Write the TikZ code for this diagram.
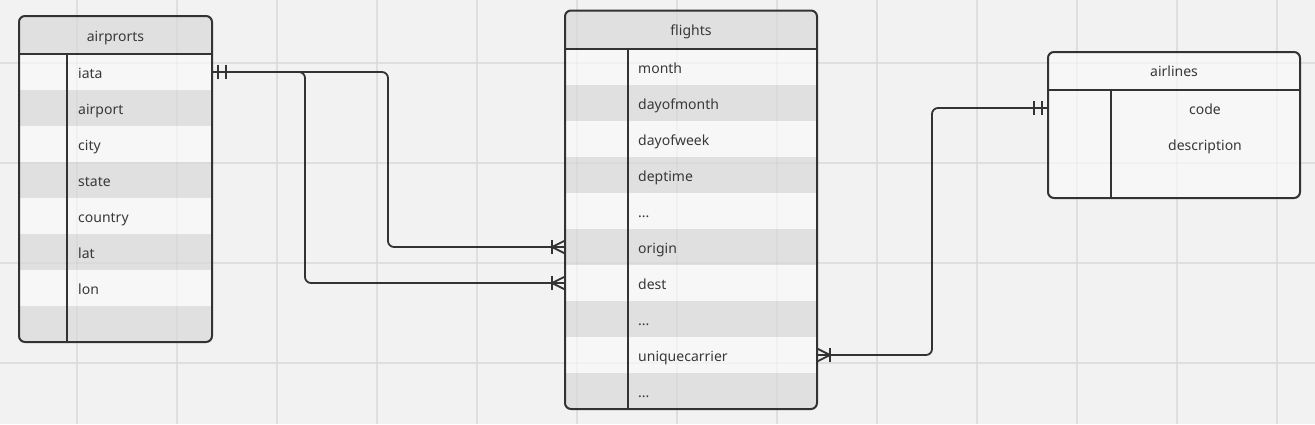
\documentclass[tikz,border=0pt]{standalone}
\usepackage{fontspec}
\setmainfont{Noto Sans}
\definecolor{bg}{HTML}{F2F2F2}
\definecolor{gridc}{HTML}{E5E5E5}
\definecolor{linec}{HTML}{333333}
\definecolor{rowa}{HTML}{F7F7F7}
\definecolor{rowb}{HTML}{E0E0E0}
\definecolor{txtc}{HTML}{383838}
\newcommand{\tridots}{...}
\begin{document}
\begin{tikzpicture}[x=1pt,y=-1pt,
  font=\fontsize{14}{16}\selectfont,
  rowbox/.style={anchor=north west, inner sep=0pt, outer sep=0pt, minimum height=36pt, draw=none},
  headbox/.style={rowbox, minimum height=38pt},
  txt/.style={text=txtc, inner sep=0pt, anchor=base west},
  ctxt/.style={text=txtc, inner sep=0pt, anchor=base},
  border/.style={draw=linec, line width=2pt, rounded corners=6pt},
  sep/.style={draw=linec, line width=2pt},
  conn/.style={draw=linec, line width=1.8pt, line join=round},
  gridline/.style={draw=gridc, line width=1.5pt},
  gridover/.style={draw=black, opacity=0.025, line width=1.5pt}]
\fill[bg] (0,0) rectangle (1315,424);
\useasboundingbox (0,0) rectangle (1315,424);
% grid
\foreach \x in {77,177,...,1277} \draw[gridline] (\x,0) -- (\x,424);
\foreach \y in {63,163,263,363} \draw[gridline] (0,\y) -- (1315,\y);

% ---------------- airports
\node[rowbox, minimum width=193pt, minimum height=326pt] (airports) at (19,16) {};
\begin{scope}
\clip[rounded corners=6pt] (airports.north west) rectangle (airports.south east);
\node[headbox, fill=rowb, minimum width=193pt] (ap-head) at (19,16) {};
\foreach \n/\t/\c [count=\i from 0] in {iata/iata/rowa, airport/airport/rowb, city/city/rowa, state/state/rowb, country/country/rowa, lat/lat/rowb, lon/lon/rowa, blank//rowb}{
  \node[rowbox, fill=\c, minimum width=193pt] (ap-\n) at (19,54+36*\i) {};
  \node[txt] (ap-\n-t) at (78,78.3+36*\i) {\t};
}
\end{scope}
\node[ctxt] (ap-title) at ([yshift=-6pt]ap-head.center) {airprorts};
\draw[sep] (ap-head.south west) -- (ap-head.south east);
\draw[sep] (67,54) -- (67,342);
\draw[border] (airports.north west) rectangle (airports.south east);

% ---------------- flights
\node[rowbox, minimum width=252pt, minimum height=398.5pt] (flights) at (565,10.5) {};
\begin{scope}
\clip[rounded corners=6pt] (flights.north west) rectangle (flights.south east);
\node[headbox, fill=rowb, minimum width=252pt, minimum height=38.5pt] (fl-head) at (565,10.5) {};
\foreach \n/\t/\c [count=\i from 0] in {month/month/rowa, dom/dayofmonth/rowb, dow/dayofweek/rowa, dep/deptime/rowb, ea/\tridots/rowa, origin/origin/rowb, dest/dest/rowa, eb/\tridots/rowb, uc/uniquecarrier/rowa, ec/\tridots/rowb}{
  \node[rowbox, fill=\c, minimum width=252pt] (fl-\n) at (565,49+36*\i) {};
  \node[txt] (fl-\n-t) at (638,73.2+36*\i) {\t};
}
\end{scope}
\node[ctxt] (fl-title) at ([yshift=-6pt]fl-head.center) {flights};
\draw[sep] (fl-head.south west) -- (fl-head.south east);
\draw[sep] (628,49) -- (628,409);
\draw[border] (flights.north west) rectangle (flights.south east);

% ---------------- airlines
\node[rowbox, minimum width=252pt, minimum height=146pt] (airlines) at (1048,52) {};
\begin{scope}
\clip[rounded corners=6pt] (airlines.north west) rectangle (airlines.south east);
\node[headbox, fill=rowa, minimum width=252pt] (al-head) at (1048,52) {};
\node[rowbox, fill=rowa, minimum width=252pt, minimum height=108pt] (al-body) at (1048,90) {};
\end{scope}
\node[rowbox, minimum width=252pt] (al-code) at (1048,90) {};
\node[ctxt] (al-title) at ([yshift=-5.8pt]al-head.center) {airlines};
\node[ctxt] (al-code-t) at (1205,114) {code};
\node[ctxt] (al-desc-t) at (1205,150) {description};
\draw[sep] (al-head.south west) -- (al-head.south east);
\draw[sep] (1111,90) -- (1111,198);
\draw[border] (airlines.north west) rectangle (airlines.south east);

% ---------------- connectors
\draw[conn, rounded corners=6pt] (ap-iata.east) -- ++(176,0) |- (fl-origin.west);
\draw[conn, rounded corners=6pt] (ap-iata.east) -- ++(93,0) |- (fl-dest.west);
\draw[conn, rounded corners=6pt] (fl-uc.east) -- ++(115,0) |- (al-code.west);

% one-and-only-one markers
\foreach \s in {6,14}{
  \draw[conn] ([xshift=\s pt, yshift=7pt]ap-iata.east) -- ([xshift=\s pt, yshift=-7pt]ap-iata.east);
  \draw[conn] ([xshift=-\s pt, yshift=7pt]al-code.west) -- ([xshift=-\s pt, yshift=-7pt]al-code.west);
}
% one-or-many markers
\foreach \r in {fl-origin, fl-dest}{
  \draw[conn] ([yshift=6.5pt]\r.west) -- ([xshift=-13pt]\r.west) -- ([yshift=-6.5pt]\r.west);
  \draw[conn] ([xshift=-13pt, yshift=7pt]\r.west) -- ([xshift=-13pt, yshift=-7pt]\r.west);
}
\draw[conn] ([yshift=6.5pt]fl-uc.east) -- ([xshift=13pt]fl-uc.east) -- ([yshift=-6.5pt]fl-uc.east);
\draw[conn] ([xshift=13pt, yshift=7pt]fl-uc.east) -- ([xshift=13pt, yshift=-7pt]fl-uc.east);

% faint grid over the tables
\foreach \x in {77,177,...,1277} \draw[gridover] (\x,0) -- (\x,424);
\foreach \y in {63,163,263,363} \draw[gridover] (0,\y) -- (1315,\y);
\end{tikzpicture}
\end{document}
